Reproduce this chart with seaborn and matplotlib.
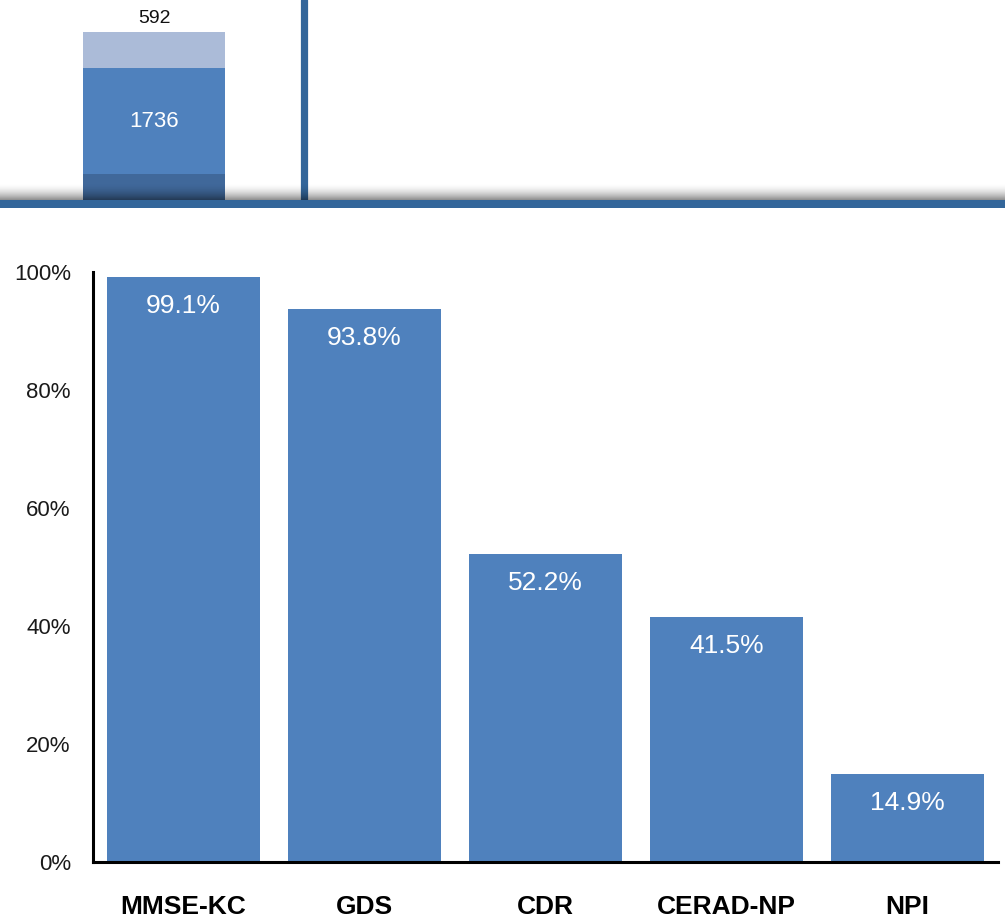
import numpy as np
import pandas as pd
import matplotlib
matplotlib.use("Agg")
import matplotlib.pyplot as plt
import seaborn as sns
from matplotlib.ticker import FuncFormatter

# ---- data ----
tests = ["MMSE-KC", "GDS", "CDR", "CERAD-NP", "NPI"]
completion_pct = [99.1, 93.8, 52.2, 41.5, 14.9]
yticks_pct = [0, 20, 40, 60, 80, 100]

# top (cropped) chart fragment
top_group = ["G1"]
top_upper = [592]
top_middle = [1736]
top_lower = [980]   # bottom segment, cropped in the picture (value not readable)

BLUE = "#4F81BD"
LIGHT = "#ABBBD8"
DARK = "#40689A"
BAND = "#33669A"

sns.set_style("white")
plt.rcParams["font.family"] = ["Liberation Sans", "DejaVu Sans"]

W, H = 1005, 919
fig = plt.figure(figsize=(W / 100, H / 100), dpi=100)

# ---------------- main chart ----------------
ax = fig.add_axes([93 / W, (H - 862) / H, 905 / W, 590 / H])
df = pd.DataFrame({"test": tests, "pct": np.array(completion_pct) / 100})
sns.barplot(data=df, x="test", y="pct", color=BLUE, saturation=1, width=0.84,
            ax=ax, edgecolor="none")
ax.set_xlim(-0.5, len(tests) - 0.5)
ax.set_ylim(0, 1.0)
ax.set_yticks(np.array(yticks_pct) / 100)
ax.yaxis.set_major_formatter(FuncFormatter(lambda v, p: f"{v*100:.0f}%"))
ax.set_xlabel("")
ax.set_ylabel("")
for s in ["top", "right"]:
    ax.spines[s].set_visible(False)
for s in ["left", "bottom"]:
    ax.spines[s].set_color("black")
    ax.spines[s].set_linewidth(2.2)
ax.tick_params(axis="y", length=0, pad=16, labelsize=16, labelcolor="#1a1a1a")
ax.tick_params(axis="x", length=0, pad=24, labelsize=19)
for lbl in ax.get_xticklabels():
    lbl.set_fontweight("bold")
    lbl.set_color("black")
for i, v in enumerate(completion_pct):
    ax.annotate(f"{v:.1f}%", xy=(i, v / 100), xytext=(0, -21),
                textcoords="offset points", ha="center", va="center",
                color="white", fontsize=19)

# ---------------- top fragment ----------------
top_h = 200
tax = fig.add_axes([0, (H - top_h) / H, 1, top_h / H])
unit = 299.0
lower = top_lower[0]
tot_mid = [a + b for a, b in zip(top_lower, top_middle)]
tot_up = [a + b for a, b in zip(tot_mid, top_upper)]
tdf = pd.DataFrame({"g": top_group, "up": tot_up, "mid": tot_mid, "low": top_lower})
bw = 142 / unit
sns.barplot(data=tdf, x="g", y="up", color=LIGHT, saturation=1, width=bw, ax=tax, edgecolor="none")
sns.barplot(data=tdf, x="g", y="mid", color=BLUE, saturation=1, width=bw, ax=tax, edgecolor="none")
sns.barplot(data=tdf, x="g", y="low", color=DARK, saturation=1, width=bw, ax=tax, edgecolor="none")
tax.set_xlim(-154 / unit, (W - 154) / unit)
tax.set_ylim(lower - 417, lower - 417 + 3268)
tax.annotate(f"{top_upper[0]}", xy=(0, tot_up[0]), xytext=(0, 10), textcoords="offset points",
             ha="center", va="center", fontsize=14, color="#111111")
tax.text(0, (tot_mid[0] + top_lower[0]) / 2, f"{top_middle[0]}", ha="center", va="center",
         fontsize=16, color="white")
tax.axvline(0.5, color=BAND, lw=5.2)
tax.axis("off")

# shadow gradient over bottom of the top fragment (darkest next to the band)
sax = fig.add_axes([0, (H - 200) / H, 1, 16 / H])
grad = np.linspace(1, 0, 64) ** 1.8        # row 0 = bottom (origin lower)
rgba = np.zeros((64, 2, 4))
rgba[..., 3] = (grad * 0.45)[:, None]
sax.imshow(rgba, aspect="auto", extent=[0, 1, 0, 1], origin="lower")
sax.axis("off")

# blue band
bax = fig.add_axes([0, (H - 208) / H, 1, 8 / H])
bax.set_facecolor(BAND)
bax.set_xticks([]); bax.set_yticks([])
for s in bax.spines.values():
    s.set_visible(False)

fig.savefig("out.png", dpi=100)
